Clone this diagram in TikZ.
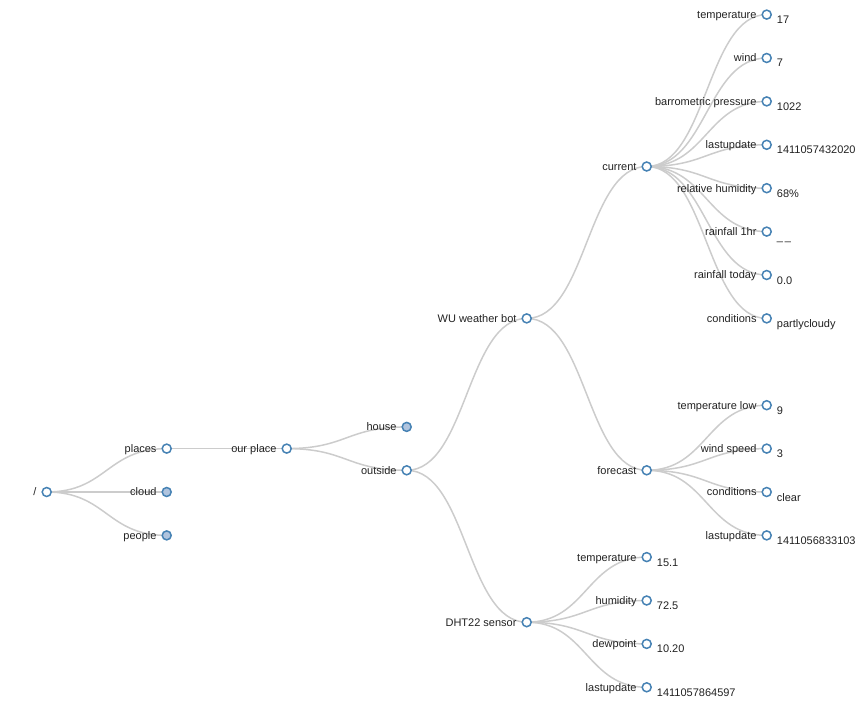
\documentclass[tikz,border=0pt]{standalone}
\usepackage{fontspec}
\setmainfont{Liberation Sans}
\usepackage{tikz}
\usetikzlibrary{calc,backgrounds}
\definecolor{steel}{HTML}{4682B4}
\definecolor{lightsteel}{HTML}{B0C4DE}
\definecolor{linkgray}{HTML}{CCCCCC}
\definecolor{txt}{HTML}{222222}
\tikzset{
  dot/.style={circle,draw=steel,fill=white,line width=1.5pt,minimum size=9pt,inner sep=0pt},
  full/.style={dot,fill=lightsteel},
  link/.style={draw=linkgray,line width=1.5pt},
  lab/.style={anchor=base east,inner sep=0pt,text=txt,font=\fontsize{11}{13}\selectfont},
  val/.style={anchor=base west,inner sep=0pt,text=txt,font=\fontsize{11}{13}\selectfont}
}
\begin{document}
\begin{tikzpicture}[x=1pt,y=-1pt]
\useasboundingbox (0,0) rectangle (861,703);
%树的结点
\node[dot] (root) at (46.7,492) {};
\node[dot] (places) at (166.7,448.6) {};
\node[full] (cloud) at (166.7,492) {};
\node[full] (people) at (166.7,535.4) {};
\node[dot] (ourplace) at (286.7,448.6) {};
\node[full] (house) at (406.7,426.9) {};
\node[dot] (outside) at (406.7,470.3) {};
\node[dot] (wubot) at (526.7,318.4) {};
\node[dot] (dht) at (526.7,622.2) {};
\node[dot] (current) at (646.7,166.5) {};
\node[dot] (forecast) at (646.7,470.3) {};
\node[dot] (cTemp) at (766.7,14.6) {};
\node[dot] (cWind) at (766.7,58.0) {};
\node[dot] (cPress) at (766.7,101.4) {};
\node[dot] (cUpd) at (766.7,144.8) {};
\node[dot] (cHum) at (766.7,188.2) {};
\node[dot] (cRain1) at (766.7,231.6) {};
\node[dot] (cRainT) at (766.7,275.0) {};
\node[dot] (cCond) at (766.7,318.4) {};
\node[dot] (fTemp) at (766.7,405.2) {};
\node[dot] (fWind) at (766.7,448.6) {};
\node[dot] (fCond) at (766.7,492.0) {};
\node[dot] (fUpd) at (766.7,535.4) {};
\node[dot] (dTemp) at (646.7,557.1) {};
\node[dot] (dHum) at (646.7,600.5) {};
\node[dot] (dDew) at (646.7,643.9) {};
\node[dot] (dUpd) at (646.7,687.3) {};
%连线
\begin{pgfonlayer}{background}
\draw[link] (root.center) .. controls +(60,0) and +(-60,0) .. (places.center);
\draw[link] (root.center) .. controls +(60,0) and +(-60,0) .. (cloud.center);
\draw[link] (root.center) .. controls +(60,0) and +(-60,0) .. (people.center);
\draw[link] (places.center) .. controls +(60,0) and +(-60,0) .. (ourplace.center);
\draw[link] (ourplace.center) .. controls +(60,0) and +(-60,0) .. (house.center);
\draw[link] (ourplace.center) .. controls +(60,0) and +(-60,0) .. (outside.center);
\draw[link] (outside.center) .. controls +(60,0) and +(-60,0) .. (wubot.center);
\draw[link] (outside.center) .. controls +(60,0) and +(-60,0) .. (dht.center);
\draw[link] (wubot.center) .. controls +(60,0) and +(-60,0) .. (current.center);
\draw[link] (wubot.center) .. controls +(60,0) and +(-60,0) .. (forecast.center);
\draw[link] (current.center) .. controls +(60,0) and +(-60,0) .. (cTemp.center);
\draw[link] (current.center) .. controls +(60,0) and +(-60,0) .. (cWind.center);
\draw[link] (current.center) .. controls +(60,0) and +(-60,0) .. (cPress.center);
\draw[link] (current.center) .. controls +(60,0) and +(-60,0) .. (cUpd.center);
\draw[link] (current.center) .. controls +(60,0) and +(-60,0) .. (cHum.center);
\draw[link] (current.center) .. controls +(60,0) and +(-60,0) .. (cRain1.center);
\draw[link] (current.center) .. controls +(60,0) and +(-60,0) .. (cRainT.center);
\draw[link] (current.center) .. controls +(60,0) and +(-60,0) .. (cCond.center);
\draw[link] (forecast.center) .. controls +(60,0) and +(-60,0) .. (fTemp.center);
\draw[link] (forecast.center) .. controls +(60,0) and +(-60,0) .. (fWind.center);
\draw[link] (forecast.center) .. controls +(60,0) and +(-60,0) .. (fCond.center);
\draw[link] (forecast.center) .. controls +(60,0) and +(-60,0) .. (fUpd.center);
\draw[link] (dht.center) .. controls +(60,0) and +(-60,0) .. (dTemp.center);
\draw[link] (dht.center) .. controls +(60,0) and +(-60,0) .. (dHum.center);
\draw[link] (dht.center) .. controls +(60,0) and +(-60,0) .. (dDew.center);
\draw[link] (dht.center) .. controls +(60,0) and +(-60,0) .. (dUpd.center);
\end{pgfonlayer}
%名称
\node[lab] (root-l) at ($(root)+(-10,3.9)$) {/};
\node[lab] (places-l) at ($(places)+(-10,3.9)$) {places};
\node[lab] (cloud-l) at ($(cloud)+(-10,3.9)$) {cloud};
\node[lab] (people-l) at ($(people)+(-10,3.9)$) {people};
\node[lab] (ourplace-l) at ($(ourplace)+(-10,3.9)$) {our place};
\node[lab] (house-l) at ($(house)+(-10,3.9)$) {house};
\node[lab] (outside-l) at ($(outside)+(-10,3.9)$) {outside};
\node[lab] (wubot-l) at ($(wubot)+(-10,3.9)$) {WU weather bot};
\node[lab] (dht-l) at ($(dht)+(-10,3.9)$) {DHT22 sensor};
\node[lab] (current-l) at ($(current)+(-10,3.9)$) {current};
\node[lab] (forecast-l) at ($(forecast)+(-10,3.9)$) {forecast};
\node[lab] (cTemp-l) at ($(cTemp)+(-10,3.9)$) {temperature};
\node[lab] (cWind-l) at ($(cWind)+(-10,3.9)$) {wind};
\node[lab] (cPress-l) at ($(cPress)+(-10,3.9)$) {barrometric pressure};
\node[lab] (cUpd-l) at ($(cUpd)+(-10,3.9)$) {lastupdate};
\node[lab] (cHum-l) at ($(cHum)+(-10,3.9)$) {relative humidity};
\node[lab] (cRain1-l) at ($(cRain1)+(-10,3.9)$) {rainfall 1hr};
\node[lab] (cRainT-l) at ($(cRainT)+(-10,3.9)$) {rainfall today};
\node[lab] (cCond-l) at ($(cCond)+(-10,3.9)$) {conditions};
\node[lab] (fTemp-l) at ($(fTemp)+(-10,3.9)$) {temperature low};
\node[lab] (fWind-l) at ($(fWind)+(-10,3.9)$) {wind speed};
\node[lab] (fCond-l) at ($(fCond)+(-10,3.9)$) {conditions};
\node[lab] (fUpd-l) at ($(fUpd)+(-10,3.9)$) {lastupdate};
\node[lab] (dTemp-l) at ($(dTemp)+(-10,3.9)$) {temperature};
\node[lab] (dHum-l) at ($(dHum)+(-10,3.9)$) {humidity};
\node[lab] (dDew-l) at ($(dDew)+(-10,3.9)$) {dewpoint};
\node[lab] (dUpd-l) at ($(dUpd)+(-10,3.9)$) {lastupdate};
%数值
\node[val] (cTemp-v) at ($(cTemp)+(10,9)$) {17};
\node[val] (cWind-v) at ($(cWind)+(10,9)$) {7};
\node[val] (cPress-v) at ($(cPress)+(10,9)$) {1022};
\node[val] (cUpd-v) at ($(cUpd)+(10,9)$) {1411057432020};
\node[val] (cHum-v) at ($(cHum)+(10,9)$) {68\%};
\node[val] (cRain1-v) at ($(cRain1)+(10,9)$) {\_\,\_};
\node[val] (cRainT-v) at ($(cRainT)+(10,9)$) {0.0};
\node[val] (cCond-v) at ($(cCond)+(10,9)$) {partlycloudy};
\node[val] (fTemp-v) at ($(fTemp)+(10,9)$) {9};
\node[val] (fWind-v) at ($(fWind)+(10,9)$) {3};
\node[val] (fCond-v) at ($(fCond)+(10,9)$) {clear};
\node[val] (fUpd-v) at ($(fUpd)+(10,9)$) {1411056833103};
\node[val] (dTemp-v) at ($(dTemp)+(10,9)$) {15.1};
\node[val] (dHum-v) at ($(dHum)+(10,9)$) {72.5};
\node[val] (dDew-v) at ($(dDew)+(10,9)$) {10.20};
\node[val] (dUpd-v) at ($(dUpd)+(10,9)$) {1411057864597};
\end{tikzpicture}
\end{document}
